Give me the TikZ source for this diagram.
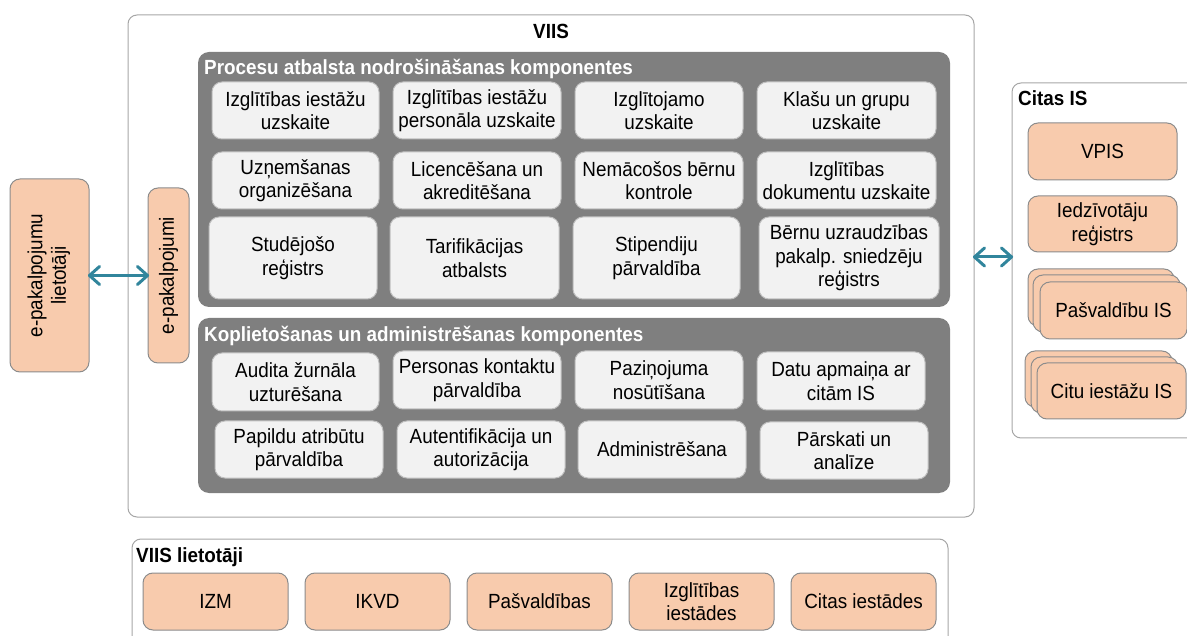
\documentclass[tikz,border=0pt]{standalone}
\usepackage{fontspec}
\setmainfont{Liberation Sans}[FakeStretch=0.92]
\usepackage{graphicx}
\usepackage{xcolor}
\definecolor{framegray}{HTML}{A6A6A6}
\definecolor{panelgray}{HTML}{7F7F7F}
\definecolor{compfill}{HTML}{F2F2F2}
\definecolor{compline}{HTML}{BFBFBF}
\definecolor{peach}{HTML}{F8CBAD}
\definecolor{peachline}{HTML}{8C8C8C}
\definecolor{linkteal}{HTML}{31859C}

\begin{document}
\begin{tikzpicture}[x=1pt,y=-1pt]
\tikzstyle{every node}+=[inner sep=0pt, font=\fontsize{20.5}{23.5}\selectfont]
\tikzstyle{frame}=[draw=framegray, line width=1pt, rounded corners=9pt]
\tikzstyle{panel}=[fill=panelgray, rounded corners=11pt]
\tikzstyle{comp}=[draw=compline, fill=compfill, line width=1pt, rounded corners=10pt, align=center]
\tikzstyle{ext}=[draw=peachline, fill=peach, line width=1pt, rounded corners=10pt, align=center]
\tikzstyle{title}=[font=\fontsize{20.5}{23.5}\selectfont\bfseries]
\tikzstyle{ptitle}=[title, text=white, anchor=west]
\tikzstyle{link}=[draw=linkteal, line width=3pt, line cap=round, line join=round]
\useasboundingbox (0,0) rectangle (1187,636);
\clip (0,0) rectangle (1187,636);

\node [frame, minimum width=846, minimum height=502] (viis) at (551,266) {};
\node [title] (viisT) at (551,31) {VIIS};

\node [panel, minimum width=752, minimum height=255] (proc) at (574,179.5) {};
\node [ptitle] (procT) at (204,69) {Procesu atbalsta nodrošināšanas komponentes};

\node [comp, minimum width=167, minimum height=57] (iestades) at (295.5,110.5) {Izglītības iestāžu\\uzskaite};
\node [comp, minimum width=168, minimum height=57] (personals) at (477,110.5) {Izglītības iestāžu\\personāla uzskaite};
\node [comp, minimum width=168, minimum height=57] (izglitojamie) at (659,110.5) {Izglītojamo\\uzskaite};
\node [comp, minimum width=179, minimum height=57] (klases) at (846.5,110.5) {Klašu un grupu\\uzskaite};

\node [comp, minimum width=167, minimum height=57] (uznemsana) at (295.5,180.5) {Uzņemšanas\\organizēšana};
\node [comp, minimum width=168, minimum height=57] (licences) at (477,180.5) {Licencēšana un\\akreditēšana};
\node [comp, minimum width=168, minimum height=57] (nemacosie) at (659,180.5) {Nemācošos bērnu\\kontrole};
\node [comp, minimum width=179, minimum height=57] (dokumenti) at (846.5,180.5) {Izglītības\\dokumentu uzskaite};

\node [comp, minimum width=168, minimum height=82] (studejosie) at (293,258) {Studējošo\\reģistrs};
\node [comp, minimum width=169, minimum height=82] (tarifikacija) at (474.5,258) {Tarifikācijas\\atbalsts};
\node [comp, minimum width=167, minimum height=82] (stipendijas) at (656.5,258) {Stipendiju\\pārvaldība};
\node [comp, minimum width=180, minimum height=82] (uzraudziba) at (849,258) {Bērnu uzraudzības\\pakalp. sniedzēju\\reģistrs};

\node [panel, minimum width=752, minimum height=175] (kopl) at (574,405.5) {};
\node [ptitle] (koplT) at (204,336) {Koplietošanas un administrēšanas komponentes};

\node [comp, minimum width=167, minimum height=58] (audits) at (295.5,382) {Audita žurnāla\\uzturēšana};
\node [comp, minimum width=168, minimum height=58] (kontakti) at (477,380) {Personas kontaktu\\pārvaldība};
\node [comp, minimum width=168, minimum height=58] (pazinojumi) at (659,380) {Paziņojuma\\nosūtīšana};
\node [comp, minimum width=168, minimum height=58] (apmaina) at (841,381) {Datu apmaiņa ar\\citām IS};

\node [comp, minimum width=168, minimum height=57] (atributi) at (299,449.5) {Papildu atribūtu\\pārvaldība};
\node [comp, minimum width=168, minimum height=57] (autentif) at (481,449.5) {Autentifikācija un\\autorizācija};
\node [comp, minimum width=168, minimum height=57] (admin) at (662,449.5) {Administrēšana};
\node [comp, minimum width=168, minimum height=57] (parskati) at (844,450.5) {Pārskati un\\analīze};

\node [ext, minimum width=79, minimum height=193] (epu) at (49.5,275.5) {\rotatebox{90}{\begin{tabular}{@{}c@{}}e-pakalpojumu\\lietotāji\end{tabular}}};
\node [ext, minimum width=41, minimum height=175] (epk) at (168.5,275.5) {\rotatebox{90}{e-pakalpojumi}};

\node [frame, minimum width=200, minimum height=355] (citas) at (1112,260.5) {};
\node [title, anchor=west] (citasT) at (1018,98) {Citas IS};
\node [ext, minimum width=149, minimum height=57] (vpis) at (1102.5,151.5) {VPIS};
\node [ext, minimum width=149, minimum height=56] (iedz) at (1102.5,224) {Iedzīvotāju\\reģistrs};
\node [ext, minimum width=146, minimum height=57] (pasv1) at (1101,297.5) {};
\node [ext, minimum width=147, minimum height=57] (pasv2) at (1106.5,303.5) {};
\node [ext, minimum width=147, minimum height=57] (pasv) at (1113.5,310.5) {Pašvaldību IS};
\node [ext, minimum width=147, minimum height=56] (citu1) at (1098.5,379) {};
\node [ext, minimum width=147, minimum height=56] (citu2) at (1104.5,385) {};
\node [ext, minimum width=149, minimum height=56] (citu) at (1111.5,391) {Citu iestāžu IS};

\node [frame, minimum width=816, minimum height=111] (lietotaji) at (540,594.5) {};
\node [title, anchor=west] (lietotajiT) at (136,557) {VIIS lietotāji};
\node [ext, minimum width=145, minimum height=57] (izm) at (215.5,601.5) {IZM};
\node [ext, minimum width=145, minimum height=57] (ikvd) at (377.5,601.5) {IKVD};
\node [ext, minimum width=145, minimum height=57] (pasvaldibas) at (539.5,601.5) {Pašvaldības};
\node [ext, minimum width=145, minimum height=57] (izglIest) at (701.5,601.5) {Izglītības\\iestādes};
\node [ext, minimum width=145, minimum height=57] (citasIest) at (863.5,601.5) {Citas iestādes};

\draw [link] (epu.east) -- (epk.west);
\draw [link] ([xshift=10,yshift=9]epu.east) -- (epu.east) -- ([xshift=10,yshift=-9]epu.east);
\draw [link] ([xshift=-10,yshift=9]epk.west) -- (epk.west) -- ([xshift=-10,yshift=-9]epk.west);

\draw [link] ([yshift=9]viis.east) coordinate (viisR) -- (viisR -| citas.west) coordinate (citasL);
\draw [link] ([xshift=10,yshift=9]viisR) -- (viisR) -- ([xshift=10,yshift=-9]viisR);
\draw [link] ([xshift=-10,yshift=9]citasL) -- (citasL) -- ([xshift=-10,yshift=-9]citasL);
\end{tikzpicture}
\end{document}
